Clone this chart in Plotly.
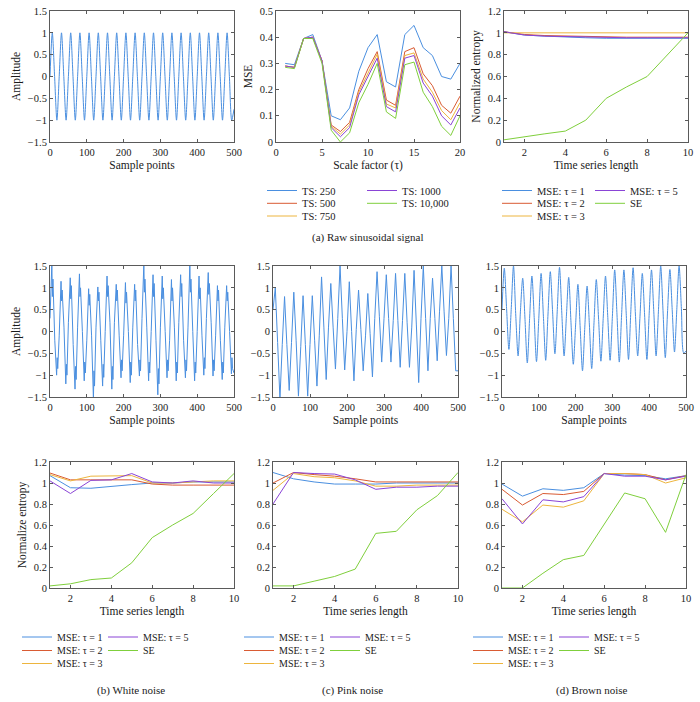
import plotly.graph_objects as go

FONT = "Liberation Serif"
TXT = "#1a1a1a"
AXC = "#5a5a5a"
BLUE, RED, YELLOW, PURPLE, GREEN = "#4a8fe0", "#d95b33", "#edb53e", "#8a44d6", "#7fcf3c"

# ---------------- (a) raw sinusoidal signal -----------------
PERIOD = 25  # samples per cycle
SINE_RISE = [0.0, 0.0, 0.0, 0.0, 0.0, 0.0, 0.0, 0.0, 0.0, 0.0, 0.0, 0.0, 0.0, 0.0, 0.0, 0.0, 0.0, 0.0, 0.0, 0.0]
SINE_PEAK = [1.0, 1.0, 1.0, 1.0, 1.0, 1.0, 1.0, 1.0, 1.0, 1.0, 1.0, 1.0, 1.0, 1.0, 1.0, 1.0, 1.0, 1.0, 1.0, 1.0]
SINE_FALL = [0.0, 0.0, 0.0, 0.0, 0.0, 0.0, 0.0, 0.0, 0.0, 0.0, 0.0, 0.0, 0.0, 0.0, 0.0, 0.0, 0.0, 0.0, 0.0, 0.0]
SINE_TROUGH = [-1.0, -1.0, -1.0, -1.0, -1.0, -1.0, -1.0, -1.0, -1.0, -1.0, -1.0, -1.0, -1.0, -1.0, -1.0, -1.0, -1.0, -1.0, -1.0, -1.0]
SINE_END = -0.75

SCALE = [1, 2, 3, 4, 5, 6, 7, 8, 9, 10, 11, 12, 13, 14, 15, 16, 17, 18, 19, 20]
TS_NAMES = ["TS: 250", "TS: 500", "TS: 750", "TS: 1000", "TS: 10,000"]
TS_250 = [0.30, 0.295, 0.395, 0.41, 0.31, 0.10, 0.085, 0.13, 0.27, 0.36, 0.41, 0.23, 0.21, 0.41, 0.445, 0.36, 0.33, 0.25, 0.24, 0.30]
TS_500 = [0.29, 0.285, 0.395, 0.40, 0.31, 0.065, 0.04, 0.075, 0.20, 0.28, 0.345, 0.16, 0.14, 0.345, 0.36, 0.26, 0.215, 0.14, 0.11, 0.175]
TS_750 = [0.29, 0.285, 0.395, 0.40, 0.31, 0.06, 0.03, 0.065, 0.19, 0.26, 0.335, 0.145, 0.13, 0.33, 0.34, 0.24, 0.19, 0.12, 0.085, 0.15]
TS_1000 = [0.29, 0.285, 0.395, 0.40, 0.31, 0.055, 0.02, 0.055, 0.18, 0.25, 0.32, 0.135, 0.115, 0.32, 0.33, 0.225, 0.175, 0.10, 0.065, 0.13]
TS_10000 = [0.285, 0.28, 0.395, 0.395, 0.30, 0.045, 0.0, 0.035, 0.15, 0.22, 0.30, 0.115, 0.09, 0.295, 0.305, 0.19, 0.135, 0.06, 0.025, 0.10]

LENGTH = [1, 2, 3, 4, 5, 6, 7, 8, 9, 10]
ENT_NAMES = ["MSE: \u03c4 = 1", "MSE: \u03c4 = 2", "MSE: \u03c4 = 3", "MSE: \u03c4 = 5", "SE"]
RAW_T1 = [1.01, 0.98, 0.97, 0.96, 0.955, 0.95, 0.95, 0.95, 0.95, 0.95]
RAW_T2 = [1.01, 0.985, 0.975, 0.97, 0.965, 0.96, 0.96, 0.96, 0.96, 0.96]
RAW_T3 = [1.0, 1.0, 1.0, 1.0, 1.0, 1.0, 1.0, 1.0, 1.0, 1.0]
RAW_T5 = [1.01, 0.98, 0.97, 0.965, 0.96, 0.955, 0.955, 0.955, 0.955, 0.955]
RAW_SE = [0.02, 0.05, 0.075, 0.10, 0.20, 0.40, 0.505, 0.60, 0.80, 1.0]

# ---------------- noisy signals (per-cycle key values) -----------------
WHITE_RISE = [0.3, -0.1, 0.2, 0.1, -0.2, 0.1, 0.0, 0.2, -0.1, 0.1, 0.3, 0.0, 0.1, -0.2, 0.2, 0.1, 0.0, 0.3, -0.1, 0.1]
WHITE_PEAK = [1.55, 1.15, 1.23, 1.32, 0.98, 1.02, 1.27, 1.08, 1.12, 1.08, 1.55, 1.30, 1.27, 1.19, 1.30, 1.55, 1.27, 1.35, 1.05, 1.05]
WHITE_DIP_HI = [0.8, 0.7, 0.75, 0.8, 0.6, 0.7, 0.8, 0.7, 0.65, 0.7, 0.9, 0.8, 0.75, 0.7, 0.8, 0.9, 0.75, 0.85, 0.7, 0.7]
WHITE_PEAK2 = [1.2, 0.95, 1.05, 1.0, 0.85, 0.9, 1.05, 0.95, 0.9, 0.95, 1.2, 1.1, 1.0, 1.0, 1.1, 1.2, 1.0, 1.1, 0.95, 0.9]
WHITE_FALL = [-0.2, 0.1, -0.3, 0.0, -0.1, -0.2, 0.2, -0.1, 0.0, -0.3, 0.1, -0.2, 0.0, 0.1, -0.2, 0.0, -0.1, 0.2, -0.2, 0.0]
WHITE_TROUGH = [-1.0, -1.2, -1.32, -1.13, -1.55, -1.25, -1.32, -1.06, -1.17, -1.02, -1.13, -1.45, -1.06, -1.13, -1.06, -1.13, -1.0, -1.02, -1.1, -0.97]
WHITE_DIP_LO = [-0.6, -0.75, -0.8, -0.7, -0.9, -0.75, -0.8, -0.65, -0.7, -0.65, -0.7, -0.85, -0.65, -0.7, -0.65, -0.7, -0.6, -0.65, -0.7, -0.6]
WHITE_TROUGH2 = [-0.85, -1.0, -1.1, -0.95, -1.25, -1.05, -1.1, -0.9, -1.0, -0.9, -0.95, -1.2, -0.9, -0.95, -0.9, -0.95, -0.85, -0.9, -0.95, -0.85]
WHITE_END = -0.95

PINK_RISE = [0.5, -0.3, -0.25, -0.35, -0.3, -0.1, 0.1, 0.3, 0.0, 0.05, -0.1, 0.3, 0.3, 0.25, 0.25, 0.1, 0.3, 0.3, 0.45, 0.3]
PINK_PEAK = [1.0, 0.8, 0.9, 0.82, 0.82, 1.25, 1.1, 1.5, 1.14, 0.95, 0.87, 1.37, 1.3, 1.33, 1.33, 1.4, 1.5, 1.22, 1.5, 1.5]
PINK_FALL = [-0.25, -0.3, -0.2, -0.3, -0.2, 0.1, 0.1, 0.3, 0.0, 0.05, -0.05, 0.35, 0.3, 0.25, 0.2, 0.15, 0.3, 0.3, 0.45, 0.3]
PINK_TROUGH = [-1.55, -1.35, -1.48, -1.48, -1.25, -1.1, -0.86, -0.88, -1.13, -0.9, -1.04, -0.7, -0.7, -0.82, -0.82, -1.17, -0.9, -0.67, -0.55, -0.9]
PINK_END = -0.9

BROWN_RISE = [0.5, 0.5, 0.45, 0.3, 0.3, 0.4, 0.45, 0.35, 0.15, 0.1, 0.2, 0.3, 0.35, 0.38, 0.45, 0.35, 0.42, 0.45, 0.48, 0.5]
BROWN_PEAK = [1.45, 1.5, 1.22, 1.27, 1.33, 1.37, 1.47, 1.24, 1.08, 1.04, 1.19, 1.27, 1.41, 1.41, 1.46, 1.33, 1.41, 1.5, 1.42, 1.5]
BROWN_FALL = [0.52, 0.35, 0.28, 0.32, 0.35, 0.45, 0.42, 0.2, 0.08, 0.15, 0.28, 0.32, 0.38, 0.42, 0.4, 0.38, 0.45, 0.48, 0.5, 0.52]
BROWN_TROUGH = [-0.41, -0.56, -0.72, -0.69, -0.66, -0.51, -0.56, -0.75, -0.9, -0.85, -0.68, -0.66, -0.7, -0.64, -0.56, -0.64, -0.56, -0.6, -0.47, -0.49]
BROWN_END = -0.45

WN_T1 = [1.07, 0.955, 0.95, 0.97, 0.985, 1.0, 1.0, 1.01, 1.01, 1.01]
WN_T2 = [1.095, 1.03, 1.03, 1.03, 1.03, 0.99, 0.98, 0.98, 0.98, 0.98]
WN_T3 = [1.08, 1.02, 1.065, 1.07, 1.07, 1.0, 1.0, 1.01, 1.02, 1.02]
WN_T5 = [1.02, 0.90, 1.025, 1.03, 1.09, 1.01, 1.0, 1.02, 1.0, 1.0]
WN_SE = [0.02, 0.04, 0.08, 0.095, 0.24, 0.48, 0.60, 0.71, 0.90, 1.09]

PN_T1 = [1.10, 1.04, 1.01, 0.99, 0.99, 0.99, 1.0, 1.0, 1.0, 1.0]
PN_T2 = [1.0, 1.10, 1.08, 1.065, 1.04, 1.01, 1.01, 1.01, 1.01, 1.01]
PN_T3 = [0.93, 1.09, 1.06, 1.05, 1.02, 0.97, 0.97, 0.98, 0.98, 0.98]
PN_T5 = [0.80, 1.10, 1.09, 1.085, 1.03, 0.94, 0.96, 0.96, 0.97, 0.97]
PN_SE = [0.02, 0.02, 0.065, 0.11, 0.18, 0.52, 0.54, 0.745, 0.88, 1.10]

BN_T1 = [0.99, 0.875, 0.945, 0.93, 0.955, 1.09, 1.075, 1.07, 1.04, 1.07]
BN_T2 = [0.94, 0.79, 0.90, 0.89, 0.92, 1.09, 1.09, 1.08, 1.03, 1.07]
BN_T3 = [0.75, 0.63, 0.79, 0.77, 0.83, 1.09, 1.09, 1.08, 1.00, 1.05]
BN_T5 = [0.85, 0.61, 0.84, 0.82, 0.87, 1.09, 1.065, 1.065, 1.03, 1.065]
BN_SE = [0.0, 0.0, 0.14, 0.27, 0.31, 0.61, 0.905, 0.85, 0.53, 1.08]

CAPTIONS = ["(a) Raw sinusoidal signal", "(b) White noise", "(c) Pink noise", "(d) Brown noise"]


def build_signal(value_lists, phases, end_value):
    xs, ys = [], []
    for k in range(len(value_lists[0])):
        for ph, vals in zip(phases, value_lists):
            xs.append(k * PERIOD + ph)
            ys.append(vals[k])
    xs.append(len(value_lists[0]) * PERIOD)
    ys.append(end_value)
    return xs, ys


W, H = 700, 702


def px(v):
    return v / W


def py(v):
    return 1 - v / H


fig = go.Figure()

# panel geometry (pixels)
TOP_Y = (11, 142)
MID_Y = (266, 397)
BOT_Y = (462, 588)
TOP_X = [(50, 234), (276, 460), (504, 688)]
LOW_X = [(50, 234), (273, 458), (502, 686)]

# ---- signals
sig_defs = [
    ("x", "y", build_signal([SINE_RISE, SINE_PEAK, SINE_FALL, SINE_TROUGH], [0, 6.25, 12.5, 18.75], SINE_END), "spline"),
    ("x4", "y4", build_signal([WHITE_RISE, WHITE_PEAK, WHITE_DIP_HI, WHITE_PEAK2, WHITE_FALL, WHITE_TROUGH, WHITE_DIP_LO, WHITE_TROUGH2],
                              [0, 5, 6.5, 8, 13, 18, 19.5, 21], WHITE_END), "linear"),
    ("x5", "y5", build_signal([PINK_RISE, PINK_PEAK, PINK_FALL, PINK_TROUGH], [0, 6.25, 12.5, 18.75], PINK_END), "linear"),
    ("x6", "y6", build_signal([BROWN_RISE, BROWN_PEAK, BROWN_FALL, BROWN_TROUGH], [0, 6.25, 12.5, 18.75], BROWN_END), "spline"),
]
for xa, ya, (xs, ys), shape in sig_defs:
    fig.add_trace(go.Scatter(x=xs, y=ys, mode="lines", xaxis=xa, yaxis=ya, showlegend=False,
                             line=dict(color=BLUE, width=1, shape=shape, smoothing=0.8), hoverinfo="skip"))

# ---- legend slots: (text-left px, row-centre px, font size) col1 rows then col2 rows
TS_SLOTS = [(302, 190.5), (302, 203.3), (302, 216), (402, 190.5), (402, 203.3)]
RAW_SLOTS = [(537, 190.5), (537, 203.3), (537, 216), (630, 190.5), (630, 203.3)]
WN_SLOTS = [(57, 637), (57, 650.5), (57, 663.5), (143, 637), (143, 650.5)]
PN_SLOTS = [(279, 637), (279, 650.5), (279, 663.5), (365, 637), (365, 650.5)]
BN_SLOTS = [(508, 637), (508, 650.5), (508, 663.5), (594, 637), (594, 650.5)]

legend_layouts = {}
TEXT_OFFSET = 40


def legend_key(n):
    return "legend" if n == 1 else "legend%d" % n


def add_legend(n, slot, size):
    tx, ty = slot
    legend_layouts[legend_key(n)] = dict(
        x=px(tx - TEXT_OFFSET), y=py(ty), xanchor="left", yanchor="middle", orientation="h",
        font=dict(family=FONT, size=size, color=TXT), bgcolor="rgba(0,0,0,0)", borderwidth=0)


lid = 1
ts_series = [TS_250, TS_500, TS_750, TS_1000, TS_10000]
colors = [BLUE, RED, YELLOW, PURPLE, GREEN]
for name, vals, col, slot in zip(TS_NAMES, ts_series, colors, TS_SLOTS):
    add_legend(lid, slot, 10.5)
    fig.add_trace(go.Scatter(x=SCALE, y=vals, mode="lines", name=name, xaxis="x2", yaxis="y2",
                             legend=legend_key(lid), line=dict(color=col, width=1)))
    lid += 1

ent_panels = [
    ("x3", "y3", [RAW_T1, RAW_T2, RAW_T3, RAW_T5, RAW_SE], RAW_SLOTS, 10.5),
    ("x7", "y7", [WN_T1, WN_T2, WN_T3, WN_T5, WN_SE], WN_SLOTS, 10),
    ("x8", "y8", [PN_T1, PN_T2, PN_T3, PN_T5, PN_SE], PN_SLOTS, 10),
    ("x9", "y9", [BN_T1, BN_T2, BN_T3, BN_T5, BN_SE], BN_SLOTS, 10),
]
for xa, ya, series, slots, fs in ent_panels:
    for name, vals, col, slot in zip(ENT_NAMES, series, colors, slots):
        add_legend(lid, slot, fs)
        fig.add_trace(go.Scatter(x=LENGTH, y=vals, mode="lines", name=name, xaxis=xa, yaxis=ya,
                                 legend=legend_key(lid), line=dict(color=col, width=1)))
        lid += 1

AX = dict(showline=True, linecolor=AXC, linewidth=1, mirror="ticks", ticks="inside", ticklen=3,
          tickcolor=AXC, showgrid=False, zeroline=False, automargin=False,
          tickfont=dict(family=FONT, size=10.5, color=TXT))
TITLE_FONT = dict(family=FONT, size=11.5, color=TXT)


def axis(domain, rng, dtick, title, anchor):
    d = dict(AX)
    d["title"] = dict(text=title or "", font=TITLE_FONT, standoff=4)
    d.update(domain=domain, range=rng, dtick=dtick, tick0=0, tickmode="linear", anchor=anchor)
    return d


layout = dict(width=W, height=H, margin=dict(l=0, r=0, t=0, b=0), plot_bgcolor="white",
              paper_bgcolor="white", font=dict(family=FONT, color=TXT))

panels = [
    ("", TOP_X[0], TOP_Y, [0, 500], 100, [-1.5, 1.5], 0.5, "Sample points", "Amplitude"),
    ("2", TOP_X[1], TOP_Y, [0, 20], 5, [0, 0.5], 0.1, "Scale factor (\u03c4)", "MSE"),
    ("3", TOP_X[2], TOP_Y, [1, 10], 2, [0, 1.2], 0.2, "Time series length", "Normalized entropy"),
    ("4", LOW_X[0], MID_Y, [0, 500], 100, [-1.5, 1.5], 0.5, "Sample points", "Amplitude"),
    ("5", LOW_X[1], MID_Y, [0, 500], 100, [-1.5, 1.5], 0.5, "Sample points", None),
    ("6", LOW_X[2], MID_Y, [0, 500], 100, [-1.5, 1.5], 0.5, "Sample points", None),
    ("7", LOW_X[0], BOT_Y, [1, 10], 2, [0, 1.2], 0.2, "Time series length", "Normalize entropy"),
    ("8", LOW_X[1], BOT_Y, [1, 10], 2, [0, 1.2], 0.2, "Time series length", None),
    ("9", LOW_X[2], BOT_Y, [1, 10], 2, [0, 1.2], 0.2, "Time series length", None),
]
for suf, xd, yd, xr, xdt, yr, ydt, xt, yt in panels:
    layout["xaxis" + suf] = axis([px(xd[0]), px(xd[1])], xr, xdt, xt, "y" + suf)
    layout["yaxis" + suf] = axis([py(yd[1]), py(yd[0])], yr, ydt, yt, "x" + suf)

layout.update(legend_layouts)

cap_pos = [(368, 237), (131, 690), (352, 690), (592, 690)]
layout["annotations"] = [
    dict(text=t, x=px(cx), y=py(cy), xref="paper", yref="paper", showarrow=False,
         xanchor="center", yanchor="middle", font=dict(family=FONT, size=11, color=TXT))
    for t, (cx, cy) in zip(CAPTIONS, cap_pos)
]

fig.update_layout(**layout)
fig.write_html("out.html", config={"displayModeBar": False},
               post_script="document.body.style.margin='0px';")
